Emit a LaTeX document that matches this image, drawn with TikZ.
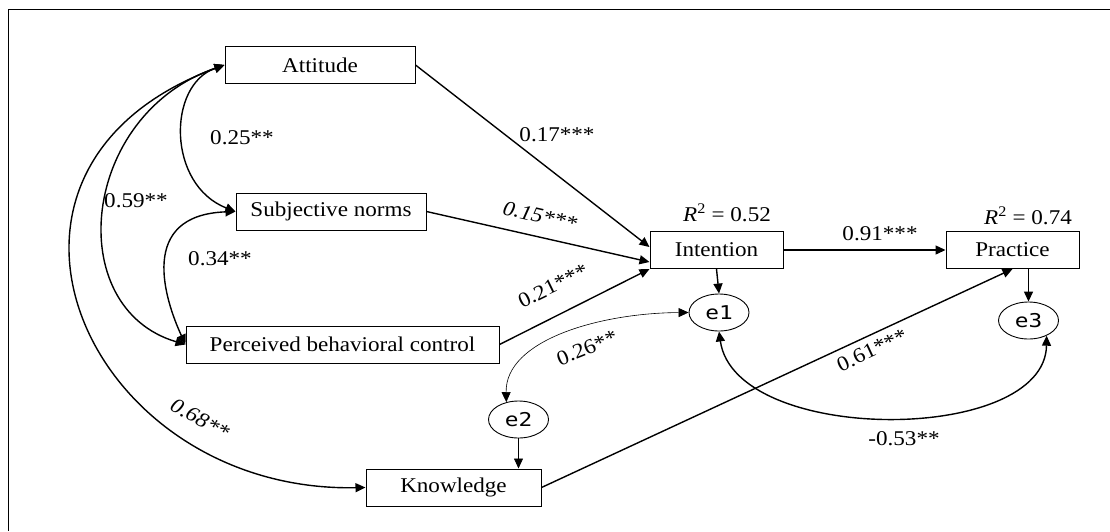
\documentclass[tikz,border=0pt]{standalone}
\usepackage{fontspec}
\setmainfont{Liberation Serif}[FakeStretch=1.1]
\newfontfamily\errfont{DejaVu Sans Mono}[FakeStretch=1.2]
\usetikzlibrary{arrows.meta,shapes.geometric}
\tikzset{
  tip/.tip={Triangle[length=10pt,width=9pt]},
  var/.style={draw,line width=1pt,minimum height=37pt,inner sep=0pt,font=\fontsize{21}{25}\selectfont},
  err/.style={draw,ellipse,line width=0.9pt,minimum width=60pt,minimum height=37pt,inner sep=0pt,font=\errfont\fontsize{19}{22}\selectfont},
  lbl/.style={inner sep=0pt,font=\fontsize{21}{25}\selectfont},
  arr/.style={line width=1.4pt,-tip},
  cov/.style={line width=1.4pt,tip-tip},
  thinarr/.style={line width=0.6pt,-tip},
  thincov/.style={line width=0.6pt,tip-tip}
}
\begin{document}
\begin{tikzpicture}[x=1pt,y=-1pt]
  \useasboundingbox (0,0) rectangle (1110,531);
  \draw[line width=1pt] (1110,9) -- (8,9) -- (8,531);
  \node[var,minimum width=190pt] (att) at (320,65) {Attitude};
  \node[var,minimum width=190pt] (sub) at (331,211.5) {Subjective norms};
  \node[var,minimum width=313pt] (pbc) at (342.5,344.5) {Perceived behavioral control};
  \node[var,minimum width=175pt] (know) at (453.5,487.5) {Knowledge};
  \node[var,minimum width=133pt] (int) at (716.5,250) {Intention};
  \node[var,minimum width=133pt] (prac) at (1012.5,250) {Practice};
  \node[err] (e1) at (719,312.5) {e1}; \node[err] (e2) at (518.5,419.5) {e2}; \node[err] (e3) at (1028.5,320.5) {e3};
  \node[lbl] (r1) at (727,213) {\textit{R}\textsuperscript{2} = 0.52};
  \node[lbl] (r2) at (1028,216) {\textit{R}\textsuperscript{2} = 0.74};
  \draw[arr] (att.east) -- ([yshift=3pt]int.west);
  \draw[arr] (sub.east) -- ([yshift=-12pt]int.west);
  \draw[arr] (pbc.east) -- (int.south west);
  \draw[arr] (int.east) -- (prac.west);
  \draw[arr] (know.east) -- (prac.south);
  \draw[arr] (int.south) -- (e1.north);
  \draw[arr] (e3.north |- prac.south) -- (e3.north);
  \draw[thinarr] (e2.south) -- (e2.south |- know.north);
  \draw[cov] (att.west) .. controls (167,85) and (167,185) .. (sub.west);
  \draw[cov] (sub.west) .. controls (137,215) and (165,300) .. (pbc.west);
  \draw[cov] (att.west) .. controls (80,115) and (62,308) .. (pbc.west);
  \draw[cov] (att.west) .. controls (-57,169) and (86,493) .. (know.west);
  \draw[thincov] (e1.west) .. controls (600,313) and (505,340) .. (e2.125);
  \draw[cov] (e1.south) .. controls (735,445) and (1045,445) .. (e3.-40);
  \node[lbl] (c1) at (242,138) {0.25**};
  \node[lbl] (c2) at (136,201) {0.59**};
  \node[lbl] (c3) at (220,259) {0.34**};
  \node[lbl,rotate=-29] (c4) at (200,419) {\textit{0.68**}};
  \node[lbl] (p1) at (557,135) {0.17***};
  \node[lbl,rotate=-13] (p2) at (540,216) {\textit{0.15***}};
  \node[lbl,rotate=26] (p3) at (553,286) {0.21***};
  \node[lbl] (p4) at (880,234) {0.91***};
  \node[lbl,rotate=25] (p5) at (872,350) {0.61***};
  \node[lbl,rotate=22] (c5) at (587,348) {0.26**};
  \node[lbl] (c6) at (904,439) {-0.53**};
\end{tikzpicture}
\end{document}
